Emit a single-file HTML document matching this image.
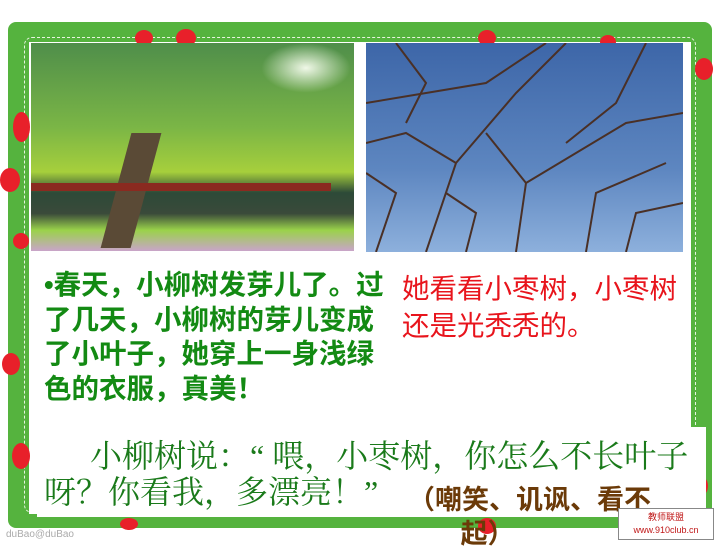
<!DOCTYPE html>
<html><head><meta charset="utf-8"><style>
*{margin:0;padding:0;box-sizing:border-box}
body{width:720px;height:540px;background:#fff;position:relative;overflow:hidden;font-family:"Liberation Sans","Noto Sans CJK SC",sans-serif}
.abs{position:absolute}
.dot{position:absolute;background:#e8202a;border-radius:50%}
.t{position:absolute;white-space:nowrap;line-height:1}
</style></head><body>
<div class="abs" style="left:8px;top:22px;width:704px;height:506px;background:#55b33e;border-radius:8px"></div>
<div class="abs" style="left:24px;top:37px;width:672px;height:476px;border:1.5px dashed #e8f5e0;border-radius:8px"></div>
<div class="abs" style="left:29px;top:42px;width:662px;height:472px;background:#fff"></div>
<div class="dot" style="left:135px;top:30px;width:18px;height:16px"></div>
<div class="dot" style="left:176px;top:29px;width:20px;height:18px"></div>
<div class="dot" style="left:13px;top:112px;width:17px;height:30px"></div>
<div class="dot" style="left:0px;top:168px;width:20px;height:24px"></div>
<div class="dot" style="left:13px;top:233px;width:16px;height:16px"></div>
<div class="dot" style="left:2px;top:353px;width:18px;height:22px"></div>
<div class="dot" style="left:12px;top:443px;width:18px;height:26px"></div>
<div class="dot" style="left:695px;top:58px;width:18px;height:22px"></div>
<div class="dot" style="left:690px;top:475px;width:18px;height:22px"></div>
<div class="dot" style="left:478px;top:30px;width:18px;height:16px"></div>
<div class="dot" style="left:600px;top:35px;width:16px;height:14px"></div>
<div class="dot" style="left:478px;top:518px;width:18px;height:16px"></div>
<div class="dot" style="left:120px;top:518px;width:18px;height:12px"></div>
<div class="abs" style="left:31px;top:43px;width:323px;height:208px;background:linear-gradient(180deg,#4f8e4a 0%,#7ab546 40%,#a6cf3c 62%,#2d4a38 72%,#3a4a3a 82%,#9ad24a 90%,#c9a4c9 100%)">
  <div class="abs" style="left:85px;top:90px;width:30px;height:115px;background:#5a4a36;transform:skewX(-15deg)"></div>
  <div class="abs" style="left:0;top:140px;width:300px;height:8px;background:#8a2a20"></div>
  <div class="abs" style="left:230px;top:0;width:90px;height:50px;background:radial-gradient(#f0f8e8,transparent 70%)"></div>
</div>
<div class="abs" style="left:366px;top:43px;width:317px;height:209px;background:linear-gradient(180deg,#3d66a8 0%,#5d86c0 60%,#8db0dc 100%)">
  <svg width="317" height="209" style="position:absolute;left:0;top:0"><g stroke="#4a3026" fill="none" stroke-width="2"><path d="M0 60 L120 40 L180 0"/><path d="M60 209 L90 120 L150 50 L200 0"/><path d="M90 120 L40 90 L0 100"/><path d="M150 209 L160 140 L260 80 L317 70"/><path d="M160 140 L120 90"/><path d="M220 209 L230 150 L300 120"/><path d="M30 0 L60 40 L40 80"/><path d="M280 0 L250 60 L200 100"/><path d="M10 209 L30 150 L0 130"/><path d="M100 209 L110 170 L80 150"/><path d="M260 209 L270 170 L317 160"/></g></svg>
</div>
<div class="t" style="left:44px;top:268px;font-size:27.5px;font-weight:bold;color:#138a13;line-height:34.5px">•春天，小柳树发芽儿了。过<br>了几天，小柳树的芽儿变成<br>了小叶子，她穿上一身浅绿<br>色的衣服，真美！</div>
<div class="t" style="left:402px;top:270px;font-size:27.5px;color:#e8141c;line-height:37px">她看看小枣树，小枣树<br>还是光秃秃的。</div>
<div class="abs" style="left:37px;top:427px;width:669px;height:90px;background:#fff"></div>
<div class="t" style="left:90px;top:440px;font-size:32px;color:#1a7a1a;font-family:'Liberation Serif','Noto Serif CJK SC',serif">小柳树说：“ 喂，小枣树，你怎么不长叶子</div>
<div class="t" style="left:44px;top:476px;font-size:32px;color:#1a7a1a;font-family:'Liberation Serif','Noto Serif CJK SC',serif">呀？你看我，多漂亮！”</div>
<div class="t" style="left:408px;top:483px;font-size:27px;font-weight:bold;color:#6b3a08;line-height:34px">（嘲笑、讥讽、看不<br>&nbsp;&nbsp;&nbsp;&nbsp;&nbsp;&nbsp;&nbsp;起）</div>
<div class="abs" style="left:618px;top:508px;width:96px;height:32px;border:1px solid #888;background:#fff;font-size:9px;color:#c01818;text-align:center;line-height:13px;padding-top:2px">教师联盟<br>www.910club.cn</div>
<div class="t" style="left:6px;top:530px;font-size:10px;color:#aaa">duBao@duBao</div>
</body></html>
